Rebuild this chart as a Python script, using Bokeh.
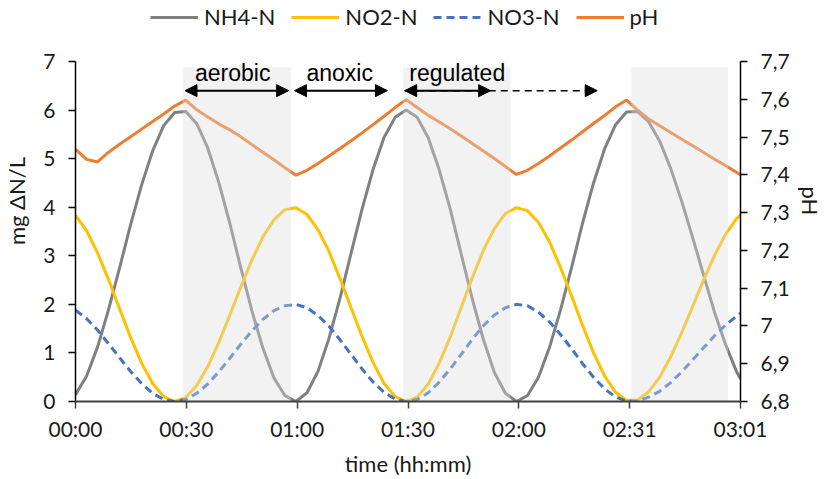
import json
from bokeh.plotting import figure
from bokeh.models import (Range1d, LinearAxis, FixedTicker, CustomJSTickFormatter,
                          Legend, LegendItem, Label, Arrow, NormalHead)
from bokeh.embed import file_html
from bokeh.resources import INLINE

# ---------------- data ----------------
t_min = [0, 3, 6, 9, 12, 15, 18, 21, 24, 27, 30, 33, 36, 39, 42, 45, 48, 51, 54, 57,
         60, 63, 66, 69, 72, 75, 78, 81, 84, 87, 90, 93, 96, 99, 102, 105, 108, 111, 114, 117,
         120, 123, 126, 129, 132, 135, 138, 141, 144, 147, 150, 153, 156, 159, 162, 165, 168, 171, 174, 177,
         180, 181]

nh4 = [0.14, 0.52, 1.12, 1.89, 2.75, 3.64, 4.46, 5.16, 5.68, 5.95,
       5.97, 5.72, 5.22, 4.51, 3.67, 2.75, 1.87, 1.10, 0.49, 0.12,
       0.00, 0.18, 0.62, 1.30, 2.13, 3.05, 3.96, 4.78, 5.44, 5.85,
       6.00, 5.85, 5.43, 4.77, 3.96, 3.03, 2.11, 1.28, 0.60, 0.17,
       0.00, 0.12, 0.50, 1.11, 1.88, 2.75, 3.67, 4.50, 5.20, 5.70,
       5.96, 5.97, 5.76, 5.36, 4.80, 4.12, 3.37, 2.59, 1.82, 1.16,
       0.60, 0.47]

no2 = [3.83, 3.52, 3.06, 2.51, 1.91, 1.32, 0.79, 0.37, 0.10, 0.00,
       0.08, 0.33, 0.72, 1.21, 1.78, 2.36, 2.91, 3.39, 3.74, 3.95,
       3.99, 3.85, 3.54, 3.09, 2.53, 1.93, 1.34, 0.80, 0.37, 0.10,
       0.00, 0.09, 0.36, 0.79, 1.33, 1.94, 2.55, 3.11, 3.56, 3.87,
       3.99, 3.93, 3.69, 3.29, 2.76, 2.18, 1.57, 1.00, 0.53, 0.19,
       0.02, 0.03, 0.20, 0.50, 0.92, 1.42, 1.96, 2.51, 3.02, 3.45,
       3.77, 3.84]

no3 = [1.88, 1.71, 1.47, 1.19, 0.90, 0.62, 0.37, 0.17, 0.04, 0.00,
       0.04, 0.17, 0.36, 0.61, 0.89, 1.18, 1.45, 1.69, 1.87, 1.97,
       2.00, 1.93, 1.77, 1.55, 1.27, 0.97, 0.67, 0.40, 0.19, 0.05,
       0.00, 0.04, 0.18, 0.40, 0.67, 0.97, 1.28, 1.56, 1.78, 1.93,
       2.00, 1.97, 1.84, 1.64, 1.38, 1.09, 0.78, 0.50, 0.26, 0.09,
       0.01, 0.01, 0.09, 0.21, 0.39, 0.61, 0.86, 1.11, 1.36, 1.58,
       1.76, 1.82]

ph = [7.468, 7.441, 7.434, 7.460, 7.481, 7.501, 7.521, 7.541, 7.561, 7.582,
      7.598, 7.572, 7.553, 7.535, 7.519, 7.501, 7.480, 7.460, 7.440, 7.419,
      7.399, 7.412, 7.430, 7.450, 7.470, 7.490, 7.511, 7.533, 7.555, 7.578,
      7.599, 7.578, 7.558, 7.540, 7.522, 7.503, 7.483, 7.463, 7.443, 7.422,
      7.401, 7.412, 7.430, 7.450, 7.471, 7.492, 7.514, 7.536, 7.557, 7.580,
      7.598, 7.571, 7.548, 7.530, 7.512, 7.494, 7.477, 7.459, 7.441, 7.424,
      7.406, 7.400]

x_tick_labels = ["00:00", "00:30", "01:00", "01:30", "02:00", "02:31", "03:01"]
x_end = 181
y_left_axis = (0, 7)
y_left_ticks = [0, 1, 2, 3, 4, 5, 6, 7]
y_right_axis = (6.8, 7.7)
y_right_ticks = [6.8, 6.9, 7.0, 7.1, 7.2, 7.3, 7.4, 7.5, 7.6, 7.7]

x_title = "time (hh:mm)"
y_left_title = "mg ΔN/L"
y_right_title = "pH"

# aerated (shaded) periods, minutes
shade_start = [29.2, 89.2, 151.3]
shade_end = [58.6, 118.4, 177.6]
shade_top = 6.88

# phase annotations
phase_labels = ["aerobic", "anoxic", "regulated"]
phase_label_x = [42.8, 71.9, 103.9]
phase_label_y = 6.76
arrow_start = [29.8, 59.6, 89.6]
arrow_end = [58.0, 84.9, 113.0]
arrow_y = 6.40
dashed_arrow_start = 89.6
dashed_arrow_end = 142.0

series_names = ["NH4-N", "NO2-N", "NO3-N", "pH"]
colors = ["#808080", "#FFC000", "#4472C4", "#ED7D31"]

FONT = "Lato"
TXT = "#1a1a1a"

# ---------------- layout (px) ----------------
W, H = 826, 479
BL = 73                 # left border
FW = 667                # frame width
AXIS_TOP_PX = 61        # where the top ticks (7 / 7,7) sit
AXIS_BOTTOM_PX = 401    # x axis
BT = 0                  # the frame reaches the top; the legend lives inside it
FH = AXIS_BOTTOM_PX - BT
axis_span = AXIS_BOTTOM_PX - AXIS_TOP_PX
left_top = y_left_axis[0] + (y_left_axis[1] - y_left_axis[0]) * FH / axis_span
right_top = y_right_axis[0] + (y_right_axis[1] - y_right_axis[0]) * FH / axis_span

p = figure(width=W, height=H, output_backend="svg", toolbar_location=None,
           x_range=Range1d(0, x_end), y_range=Range1d(y_left_axis[0], left_top),
           min_border_left=BL, min_border_right=W - BL - FW,
           min_border_top=BT, min_border_bottom=H - BT - FH)
p.extra_y_ranges = {"ph": Range1d(y_right_axis[0], right_top)}
p.outline_line_color = None
p.xgrid.visible = False
p.ygrid.visible = False
p.background_fill_color = "white"
p.border_fill_color = "white"

xticks = [i * x_end / (len(x_tick_labels) - 1) for i in range(len(x_tick_labels))]
p.xaxis.ticker = FixedTicker(ticks=xticks)
p.xaxis.formatter = CustomJSTickFormatter(code="""
const tpos = %s; const tlab = %s;
for (let i = 0; i < tpos.length; i++) { if (Math.abs(tpos[i] - tick) < 1e-6) return tlab[i]; }
return '';
""" % (json.dumps(xticks), json.dumps(x_tick_labels)))
p.xaxis.axis_label = x_title

p.yaxis.ticker = FixedTicker(ticks=y_left_ticks)
p.yaxis.bounds = y_left_axis
p.yaxis.axis_label = y_left_title

ax_r = LinearAxis(y_range_name="ph", ticker=FixedTicker(ticks=y_right_ticks), bounds=y_right_axis,
                  formatter=CustomJSTickFormatter(
                      code="return (Math.round(tick*10)/10).toString().replace('.', ',');"),
                  axis_label=y_right_title)
p.add_layout(ax_r, "right")

for ax in [p.xaxis[0], p.yaxis[0], ax_r]:
    ax.major_label_text_font = FONT
    ax.major_label_text_font_size = "21px"
    ax.major_label_text_color = TXT
    ax.axis_label_text_font = FONT
    ax.axis_label_text_font_size = "22px"
    ax.axis_label_text_font_style = "normal"
    ax.axis_label_text_color = TXT
    ax.minor_tick_line_color = None
    ax.major_tick_in = 0
    ax.major_tick_out = 7
    ax.axis_line_width = 1.5
    ax.major_tick_line_width = 1.5

p.xaxis.axis_line_color = "#404040"
p.xaxis.major_tick_line_color = "#404040"
p.xaxis.axis_line_width = 2
p.xaxis.major_label_standoff = 7
p.xaxis.axis_label_standoff = 6
p.yaxis.axis_line_color = "black"
p.yaxis.major_tick_line_color = "black"
p.yaxis.major_label_standoff = 13
p.yaxis.axis_label_standoff = 10
ax_r.axis_line_color = "black"
ax_r.major_tick_line_color = "black"
ax_r.major_label_standoff = 13
ax_r.axis_label_standoff = 4

# ---------------- series ----------------
r_nh4 = p.line(t_min, nh4, line_color=colors[0], line_width=3)
r_no2 = p.line(t_min, no2, line_color=colors[1], line_width=3)
r_no3 = p.line(t_min, no3, line_color=colors[2], line_width=3, line_dash="8 5")
r_ph = p.line(t_min, ph, line_color=colors[3], line_width=3, y_range_name="ph")

# shaded aerated periods, drawn over the lines like the reference
p.quad(left=shade_start, right=shade_end, bottom=[0] * len(shade_start),
       top=[shade_top] * len(shade_start), fill_color="#dcdcdc", fill_alpha=0.38,
       line_color=None)

# ---------------- annotations ----------------
for txt, lx in zip(phase_labels, phase_label_x):
    p.add_layout(Label(x=lx, y=phase_label_y, text=txt, text_align="center",
                       text_baseline="alphabetic", text_font="Liberation Sans",
                       text_font_size="23px", text_color="black"))

for xs, xe in zip(arrow_start, arrow_end):
    p.add_layout(Arrow(x_start=xs, y_start=arrow_y, x_end=xe, y_end=arrow_y,
                       line_color="black", line_width=2,
                       start=NormalHead(size=12, fill_color="black", line_color="black", line_width=1),
                       end=NormalHead(size=12, fill_color="black", line_color="black", line_width=1)))
p.add_layout(Arrow(x_start=dashed_arrow_start, y_start=arrow_y, x_end=dashed_arrow_end, y_end=arrow_y,
                   line_color="black", line_width=1.5, line_dash="7 5",
                   end=NormalHead(size=12, fill_color="black", line_color="black", line_width=1)))

legend = Legend(items=[LegendItem(label=n, renderers=[r]) for n, r in
                       zip(series_names, [r_nh4, r_no2, r_no3, r_ph])],
                orientation="horizontal", location=(75, FH - 30),
                label_text_font=FONT, label_text_font_size="22px", label_text_color=TXT,
                glyph_width=48, glyph_height=20, label_standoff=6, spacing=16,
                padding=0, margin=0, border_line_color=None, background_fill_alpha=0)
p.add_layout(legend, "center")

open("out.html", "w").write(file_html(p, INLINE))
